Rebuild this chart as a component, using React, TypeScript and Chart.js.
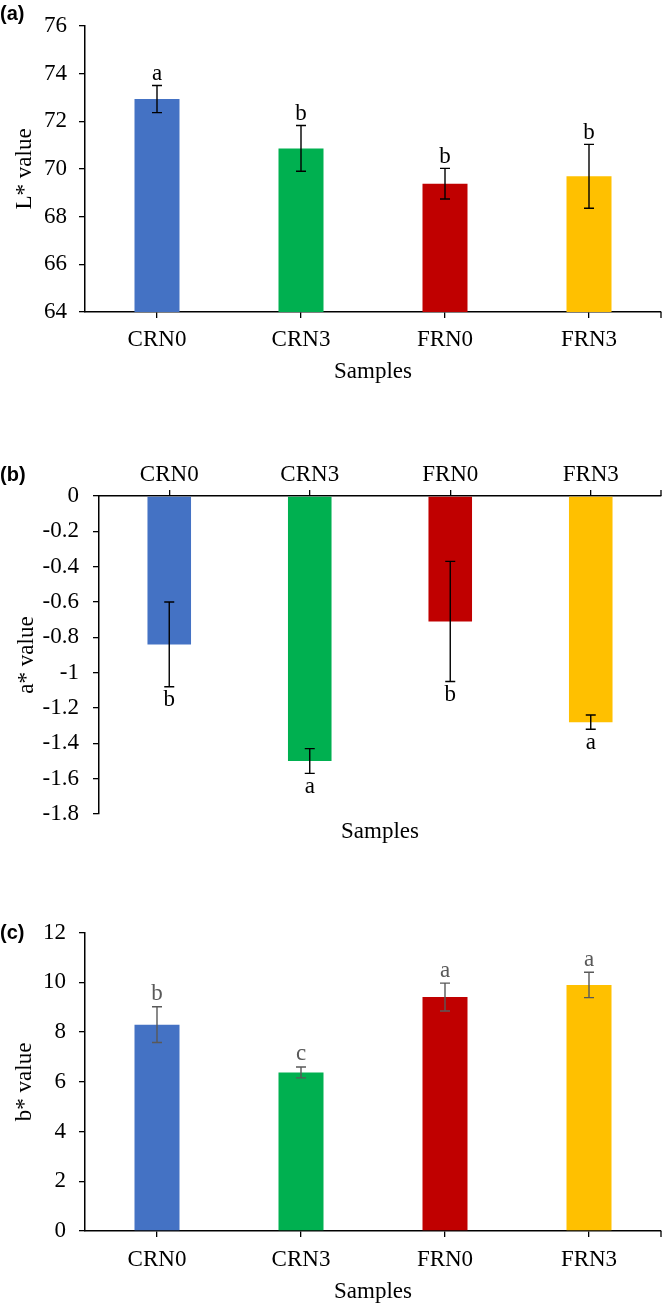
import { useEffect, useRef } from "react";
import { Chart, registerables } from "chart.js";

Chart.register(...registerables);

// Sample groups and their bar colours
const samples = ["CRN0", "CRN3", "FRN0", "FRN3"];
const barColors = ["#4472C4", "#00B050", "#C00000", "#FFC000"];

// (a) L* lightness
const lMeans = [72.93, 70.86, 69.38, 69.69];
const lErrors = [0.57, 0.96, 0.64, 1.34];
const lLetters = ["a", "b", "b", "b"];
const lTicks = [64, 66, 68, 70, 72, 74, 76];

// (b) a* redness
const aMeans = [-0.84, -1.5, -0.71, -1.28];
const aErrors = [0.24, 0.07, 0.34, 0.04];
const aLetters = ["b", "a", "b", "a"];
const aTicks = [0, -0.2, -0.4, -0.6, -0.8, -1, -1.2, -1.4, -1.6, -1.8];

// (c) b* yellowness
const bMeans = [8.3, 6.38, 9.41, 9.9];
const bErrors = [0.72, 0.22, 0.56, 0.51];
const bLetters = ["b", "c", "a", "a"];
const bTicks = [0, 2, 4, 6, 8, 10, 12];

const SERIF = "'Liberation Serif', 'Times New Roman', serif";
const SANS = "'Liberation Sans', Arial, sans-serif";
const FONT = { family: SERIF, size: 23, lineHeight: 1.2 };

type PanelSpec = {
  top: number;
  height: number;
  means: number[];
  errors: number[];
  letters: string[];
  ticks: number[];
  yTitle: string;
  tag: string;
  tagY: number;
  axisPos: "top" | "bottom";
  padTop: number;
  yWidth: number;
  xHeight: number;
  yTickPad: number;
  yTitlePad: number;
  xTickPad: number;
  xTitlePad: number;
  errColor: string;
  letterColor: string;
  letterGap: number;
  barPct: number;
};

const panels: PanelSpec[] = [
  {
    top: 0, height: 390, means: lMeans, errors: lErrors, letters: lLetters, ticks: lTicks,
    yTitle: "L* value", tag: "(a)", tagY: 14, axisPos: "bottom", padTop: 14,
    yWidth: 85, xHeight: 78, yTickPad: 12, yTitlePad: 11.2, xTickPad: 8.2, xTitlePad: 4.2,
    errColor: "#000000", letterColor: "#000000", letterGap: 5, barPct: 0.3125,
  },
  {
    top: 420, height: 430, means: aMeans, errors: aErrors, letters: aLetters, ticks: aTicks,
    yTitle: "a* value", tag: "(b)", tagY: 55, axisPos: "top", padTop: 0,
    yWidth: 99, xHeight: 76, yTickPad: 14, yTitlePad: 13.2, xTickPad: 1.2, xTitlePad: 4.2,
    errColor: "#000000", letterColor: "#000000", letterGap: 2, barPct: 0.31,
  },
  {
    top: 860, height: 446, means: bMeans, errors: bErrors, letters: bLetters, ticks: bTicks,
    yTitle: "b* value", tag: "(c)", tagY: 73, axisPos: "bottom", padTop: 72.7,
    yWidth: 85, xHeight: 75, yTickPad: 13, yTitlePad: 11.2, xTickPad: 9.2, xTitlePad: 0.2,
    errColor: "#595959", letterColor: "#595959", letterGap: 6.5, barPct: 0.3125,
  },
];

function Panel({ spec }: { spec: PanelSpec }) {
  const ref = useRef<HTMLCanvasElement | null>(null);

  useEffect(() => {
    if (!ref.current) return;
    const s = spec;
    const onTop = s.axisPos === "top";

    // Error bars, significance letters, panel tag and the closing axis tick
    const annotate = {
      id: "annotate",
      afterDatasetsDraw(chart: Chart) {
        const { ctx, chartArea } = chart;
        const x = chart.scales.x;
        const y = chart.scales.y;
        ctx.save();
        ctx.strokeStyle = s.errColor;
        ctx.lineWidth = 1.4;
        s.means.forEach((m, i) => {
          const cx = x.getPixelForValue(i);
          const hi = y.getPixelForValue(m + s.errors[i]);
          const lo = y.getPixelForValue(m - s.errors[i]);
          ctx.beginPath();
          ctx.moveTo(cx, hi);
          ctx.lineTo(cx, lo);
          ctx.moveTo(cx - 5, hi);
          ctx.lineTo(cx + 5, hi);
          ctx.moveTo(cx - 5, lo);
          ctx.lineTo(cx + 5, lo);
          ctx.stroke();

          ctx.fillStyle = s.letterColor;
          ctx.font = `23px ${SERIF}`;
          ctx.textAlign = "center";
          if (m < 0) {
            ctx.textBaseline = "top";
            ctx.fillText(s.letters[i], cx, lo + s.letterGap);
          } else {
            ctx.textBaseline = "alphabetic";
            ctx.fillText(s.letters[i], cx, hi - s.letterGap);
          }
        });

        // short tick closing the category axis at its right end
        ctx.strokeStyle = "#000000";
        ctx.lineWidth = 1.3;
        const ay = onTop ? chartArea.top : chartArea.bottom;
        ctx.beginPath();
        ctx.moveTo(chartArea.right, ay);
        ctx.lineTo(chartArea.right, onTop ? ay - 6 : ay + 6);
        ctx.stroke();

        ctx.fillStyle = "#000000";
        ctx.font = `bold 20px ${SANS}`;
        ctx.textAlign = "left";
        ctx.textBaseline = "middle";
        ctx.fillText(s.tag, 0, s.tagY);
        ctx.restore();
      },
    };

    const lo = Math.min(...s.ticks);
    const hi = Math.max(...s.ticks);

    const chart = new Chart(ref.current, {
      type: "bar",
      data: {
        labels: samples,
        datasets: [
          {
            data: s.means,
            backgroundColor: barColors,
            borderWidth: 0,
            barPercentage: s.barPct,
            categoryPercentage: 1,
          },
        ],
      },
      options: {
        responsive: false,
        animation: false,
        events: [],
        layout: { padding: { top: s.padTop, right: 3, left: 0, bottom: 0 } },
        plugins: {
          legend: { display: false },
          tooltip: { enabled: false },
          title: {
            display: onTop,
            text: "Samples",
            position: "bottom",
            fullSize: false,
            color: "#000000",
            font: { ...FONT, weight: "normal" },
            padding: { top: s.xTitlePad, bottom: s.xTitlePad },
          },
        },
        scales: {
          x: {
            type: "category",
            position: s.axisPos,
            offset: true,
            grid: {
              display: true,
              offset: false,
              drawOnChartArea: false,
              drawTicks: true,
              tickLength: 6,
              color: "#000000",
              lineWidth: 1.3,
            },
            border: { display: true, color: "#000000", width: 1.5 },
            ticks: {
              color: "#000000",
              font: FONT,
              padding: s.xTickPad,
              maxRotation: 0,
              autoSkip: false,
            },
            title: {
              display: !onTop,
              text: "Samples",
              color: "#000000",
              font: FONT,
              padding: { top: 0, bottom: s.xTitlePad },
            },
            afterFit: (scale: any) => {
              scale.height = s.xHeight;
            },
          },
          y: {
            type: "linear",
            min: lo,
            max: hi,
            afterBuildTicks: (scale: any) => {
              scale.ticks = [...s.ticks].sort((p, q) => p - q).map((value) => ({ value }));
            },
            grid: {
              display: true,
              drawOnChartArea: false,
              drawTicks: true,
              tickLength: 6,
              color: "#000000",
              lineWidth: 1.3,
            },
            border: { display: true, color: "#000000", width: 1.5 },
            ticks: {
              color: "#000000",
              font: FONT,
              padding: s.yTickPad,
              callback: (v: any) => String(Math.round(Number(v) * 10) / 10),
            },
            title: {
              display: true,
              text: s.yTitle,
              color: "#000000",
              font: FONT,
              padding: { top: s.yTitlePad, bottom: 0 },
            },
            afterFit: (scale: any) => {
              scale.width = s.yWidth;
            },
          },
        },
      },
      plugins: [annotate],
    } as any);

    return () => chart.destroy();
  }, [spec]);

  return (
    <div style={{ position: "absolute", left: 0, top: spec.top, width: 664, height: spec.height }}>
      <canvas ref={ref} width={664} height={spec.height} style={{ display: "block" }} />
    </div>
  );
}

export default function App() {
  return (
    <div style={{ position: "absolute", left: 0, top: 0, width: 664, height: 1306, background: "#ffffff" }}>
      {panels.map((p) => (
        <Panel key={p.tag} spec={p} />
      ))}
    </div>
  );
}
